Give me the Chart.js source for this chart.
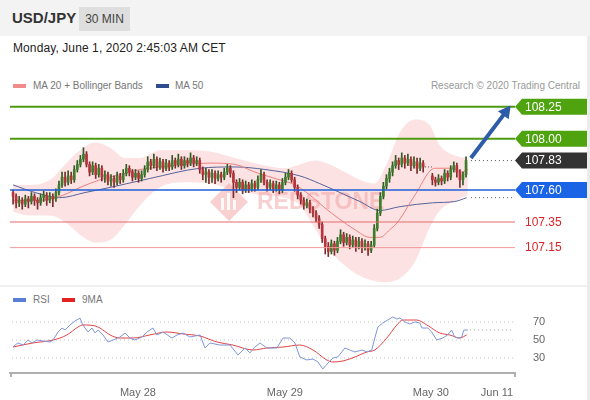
<!DOCTYPE html>
<html>
<head>
<meta charset="utf-8">
<script src="https://cdn.jsdelivr.net/npm/chart.js@4.4.0/dist/chart.umd.min.js"></script>
<style>
  html, body { margin: 0; padding: 0; background: #fff; }
  body { width: 590px; height: 400px; position: relative; overflow: hidden; font-family: "Liberation Sans", Arial, sans-serif; }
  #head { position: absolute; left: 0; top: 0; width: 590px; height: 36px; background: #f3f3f3; }
  #pair { position: absolute; left: 12px; top: 9px; font-size: 15px; font-weight: bold; color: #333; }
  #tf { position: absolute; left: 79px; top: 7px; width: 51px; height: 24px; background: #dedede; color: #444; font-size: 12px; line-height: 24px; text-align: center; }
  #date { position: absolute; left: 13px; top: 41px; font-size: 12px; color: #222; letter-spacing: 0.1px; }
  .leg { position: absolute; font-size: 10px; color: #777; white-space: nowrap; }
  .sw { position: absolute; width: 13px; height: 4px; }
  #edge { position: absolute; left: 587px; top: 36px; width: 3px; height: 364px; background: #ececec; }
  #sep { position: absolute; left: 0; top: 285px; width: 587px; height: 2px; background: #f0f0f0; }
  canvas { position: absolute; left: 0; }
</style>
</head>
<body>
<div id="head"><div id="pair">USD/JPY</div><div id="tf">30 MIN</div></div>
<div id="date">Monday, June 1, 2020 2:45:03 AM CET</div>

<div class="sw" style="left:13px;top:84px;background:#f28b8b"></div>
<div class="leg" style="left:33px;top:80px">MA 20 + Bollinger Bands</div>
<div class="sw" style="left:156px;top:84px;background:#2d4d8e"></div>
<div class="leg" style="left:175px;top:80px">MA 50</div>
<div class="leg" style="right:10px;top:80px;color:#999">Research © 2020 Trading Central</div>

<div id="sep"></div>
<div class="sw" style="left:13px;top:298px;background:#5b7fd6"></div>
<div class="leg" style="left:33px;top:294px">RSI</div>
<div class="sw" style="left:62px;top:298px;background:#e52222"></div>
<div class="leg" style="left:82px;top:294px">9MA</div>
<div id="edge"></div>

<canvas id="price" width="590" height="195" style="top:90px"></canvas>
<canvas id="rsi" width="590" height="113" style="top:287px"></canvas>

<script>
// USD/JPY 30 min - price panel + RSI panel

// ==================== DATA ====================
// candle slots (30 min each); weekend gap after slot 134
const candleSlots = [];
for (let s = 0; s <= 134; s++) candleSlots.push(s);
for (let s = 137; s <= 148; s++) candleSlots.push(s);

const opens = [
  107.58,107.55,107.50,107.52,107.49,107.53,107.51,107.55,107.52,107.50,
  107.54,107.56,107.52,107.55,107.53,107.58,107.64,107.70,107.66,107.71,
  107.68,107.76,107.80,107.84,107.88,107.80,107.74,107.79,107.72,107.77,
  107.70,107.72,107.67,107.69,107.66,107.71,107.68,107.73,107.77,107.74,
  107.70,107.73,107.69,107.72,107.76,107.82,107.79,107.84,107.78,107.82,
  107.77,107.81,107.78,107.83,107.80,107.84,107.79,107.83,107.81,107.85,
  107.81,107.83,107.76,107.72,107.74,107.70,107.73,107.69,107.72,107.70,
  107.74,107.77,107.73,107.66,107.62,107.66,107.60,107.64,107.61,107.65,
  107.62,107.68,107.72,107.66,107.62,107.65,107.61,107.64,107.60,107.66,
  107.70,107.73,107.68,107.62,107.56,107.52,107.48,107.50,107.45,107.42,
  107.38,107.33,107.22,107.16,107.12,107.18,107.13,107.20,107.25,107.19,
  107.23,107.17,107.21,107.16,107.20,107.15,107.18,107.13,107.17,107.30,
  107.42,107.55,107.63,107.69,107.74,107.79,107.83,107.80,107.85,107.81,
  107.84,107.79,107.82,107.77,107.81,
  107.71,107.68,107.66,107.69,107.67,107.73,107.70,107.76,107.79,107.74,107.68,107.72
];
const highs = [
  107.60,107.57,107.55,107.54,107.56,107.55,107.58,107.57,107.54,107.57,
  107.59,107.58,107.58,107.57,107.61,107.67,107.74,107.74,107.75,107.74,
  107.79,107.83,107.87,107.93,107.90,107.82,107.82,107.81,107.80,107.79,
  107.75,107.74,107.72,107.71,107.74,107.73,107.76,107.80,107.79,107.76,
  107.76,107.75,107.75,107.79,107.86,107.84,107.88,107.86,107.85,107.84,
  107.84,107.83,107.87,107.85,107.88,107.86,107.86,107.85,107.89,107.87,
  107.86,107.85,107.78,107.77,107.76,107.76,107.75,107.75,107.74,107.77,
  107.80,107.79,107.75,107.68,107.69,107.68,107.67,107.66,107.68,107.67,
  107.71,107.76,107.74,107.68,107.68,107.67,107.67,107.66,107.69,107.73,
  107.76,107.75,107.70,107.64,107.58,107.54,107.53,107.52,107.47,107.44,
  107.40,107.35,107.24,107.19,107.21,107.20,107.23,107.29,107.27,107.26,
  107.25,107.24,107.23,107.23,107.22,107.21,107.20,107.20,107.33,107.45,
  107.58,107.66,107.72,107.77,107.82,107.87,107.85,107.89,107.87,107.88,
  107.86,107.86,107.85,107.85,107.83,
  107.73,107.70,107.72,107.71,107.76,107.75,107.79,107.82,107.81,107.76,107.74,107.86
];
const lows = [
  107.49,107.46,107.47,107.45,107.47,107.46,107.49,107.48,107.45,107.48,
  107.51,107.48,107.50,107.47,107.51,107.56,107.62,107.63,107.64,107.65,
  107.66,107.74,107.78,107.82,107.78,107.71,107.72,107.69,107.70,107.67,
  107.66,107.64,107.63,107.62,107.64,107.65,107.66,107.71,107.71,107.67,
  107.68,107.66,107.67,107.70,107.74,107.76,107.77,107.75,107.76,107.74,
  107.75,107.75,107.76,107.77,107.78,107.76,107.77,107.78,107.79,107.78,
  107.79,107.73,107.68,107.66,107.65,107.66,107.65,107.67,107.66,107.68,
  107.72,107.70,107.54,107.58,107.60,107.57,107.58,107.58,107.59,107.59,
  107.60,107.66,107.64,107.59,107.60,107.58,107.59,107.57,107.58,107.64,
  107.68,107.66,107.59,107.53,107.49,107.45,107.46,107.42,107.39,107.35,
  107.30,107.19,107.10,107.08,107.10,107.09,107.11,107.18,107.16,107.17,
  107.14,107.15,107.12,107.14,107.11,107.13,107.09,107.11,107.15,107.28,
  107.40,107.53,107.61,107.66,107.71,107.77,107.76,107.78,107.77,107.79,
  107.75,107.77,107.73,107.75,107.74,
  107.64,107.63,107.64,107.64,107.65,107.67,107.68,107.74,107.70,107.62,107.64,107.70
];
const closes = [
  107.55,107.50,107.52,107.49,107.53,107.51,107.55,107.52,107.50,107.54,
  107.56,107.52,107.55,107.53,107.58,107.64,107.70,107.66,107.71,107.68,
  107.76,107.80,107.84,107.88,107.80,107.74,107.79,107.72,107.77,107.70,
  107.72,107.67,107.69,107.66,107.71,107.68,107.73,107.77,107.74,107.70,
  107.73,107.69,107.72,107.76,107.82,107.79,107.84,107.78,107.82,107.77,
  107.81,107.78,107.83,107.80,107.84,107.79,107.83,107.81,107.85,107.81,
  107.83,107.76,107.72,107.74,107.70,107.73,107.69,107.72,107.70,107.74,
  107.77,107.73,107.66,107.62,107.66,107.60,107.64,107.61,107.65,107.62,
  107.68,107.72,107.66,107.62,107.65,107.61,107.64,107.60,107.66,107.70,
  107.73,107.68,107.62,107.56,107.52,107.48,107.50,107.45,107.42,107.38,
  107.33,107.22,107.16,107.12,107.18,107.13,107.20,107.25,107.19,107.23,
  107.17,107.21,107.16,107.20,107.15,107.18,107.13,107.17,107.30,107.42,
  107.55,107.63,107.69,107.74,107.79,107.83,107.80,107.85,107.81,107.84,
  107.79,107.82,107.77,107.81,107.78,
  107.68,107.66,107.69,107.67,107.73,107.70,107.76,107.79,107.74,107.68,107.72,107.83
];

// Bollinger bands (20) sampled along the slots
const bandSlots = [0,5.6,12.1,17,21.9,26.8,31.7,36.6,41.5,48,56.2,64.3,72.5,80.7,88.8,93.7,98.6,103.5,108.4,113.3,118,122,126.4,131.3,136,139.4,144.3,148.6];
const bbUpper = [107.64,107.64,107.68,107.80,107.91,107.97,107.93,107.85,107.85,107.91,107.91,107.90,107.85,107.80,107.77,107.80,107.83,107.80,107.74,107.68,107.65,107.80,108.05,108.15,108.11,107.95,107.87,107.85];
const bbLower = [107.43,107.40,107.40,107.35,107.25,107.19,107.21,107.33,107.48,107.62,107.66,107.65,107.60,107.56,107.54,107.48,107.30,107.13,107.01,106.93,106.89,106.88,106.91,107.04,107.30,107.44,107.51,107.56];

const ma20Slots = [0,8.8,15.3,21.9,28.4,34.9,41.5,48,56.2,64.3,72.5,79,85.6,92.1,97,101.9,106.8,111.7,116.6,119.8,123.1,125.7,131.3,137.8,143.7,146.6,148.6];
const ma20 = [107.52,107.52,107.55,107.62,107.68,107.72,107.76,107.78,107.80,107.81,107.80,107.74,107.69,107.64,107.56,107.46,107.37,107.29,107.23,107.23,107.29,107.35,107.56,107.77,107.77,107.74,107.76];

const ma50Slots = [0,7.2,15.3,23.5,31.7,44.7,61.1,72.5,82.3,93.7,100.2,106.8,113.3,119.8,126.4,137.1,144.3,148.2];
const ma50 = [107.64,107.58,107.54,107.58,107.62,107.69,107.77,107.78,107.76,107.71,107.65,107.58,107.51,107.44,107.47,107.50,107.51,107.54];

// key levels
const resistLevels = [108.25, 108.00];
const pivotLevel = 107.60;
const supportLevels = [107.35, 107.15];
const lastPrice = 107.83;
const fridayClose = 107.78;
const arrowFrom = [149.6, 107.85];
const arrowTo = [162.6, 108.26];

// RSI(14) and its 9 period MA
const rsiSlots = [0,1.6,3.3,4.9,6.2,7.8,9.8,12.1,13.1,14.7,16,17,18.6,20.2,21.9,22.5,23.5,24.5,25.8,26.8,27.8,29.4,31,32.7,34.9,36.6,38.2,39.8,42.1,43.8,45.7,47,49,51.9,53.6,55.5,57.8,61.1,62.7,64.3,67.6,70.9,73.5,75.8,77.4,79,80.7,82.9,86.2,88.2,90.4,92.1,93.7,96,98,99.6,101.2,102.9,104.5,106.1,107.4,108.4,110,111.7,114,115.6,117.2,118.2,119.2,120.8,122.4,124.1,125.4,126.4,128,129.6,131.3,132.9,133.6,135.5,136.8,138.4,140.4,142,143.3,144.3,145.3,146.6,147.3,148.6];
const rsiVals = [42.6,46.7,44.4,50,46.7,50,48.9,47.8,50,58.9,63.3,61.1,66.7,71.1,74.4,68.9,63.3,58.9,63.3,57.8,61.1,55.6,47.8,50,53.3,57.8,52.2,50,53.3,58.9,63.3,55.6,58.9,52.2,55.6,57.8,53.3,55.6,41.1,46.7,44.4,44.4,33.3,41.1,35.6,42.2,46.7,41.1,41.1,52.2,52.2,46.7,31.1,27.8,28.9,25.6,17.8,24.4,30,31.1,36.7,41.1,38.9,36.7,38.9,36.7,38.9,52.2,64.4,68.9,72.2,75.6,73.3,74.4,70,67.8,70,68.9,63.3,63.3,58.9,50,52.2,55.6,61.1,53.3,52.2,53.3,61.1,61.1];
const maSlots = [0,6.5,13.1,17.6,21.2,22.9,26.8,28.4,31.7,34.9,39.2,44.7,50.3,55.5,61.1,66.6,71.8,78.4,82.9,88.2,93.7,98,102.5,104.5,107.8,111.7,115.6,118.2,122.1,125.4,127.3,131.9,135.2,139.4,142.7,146,148.2];
const maVals = [42.2,46.7,50,55.6,64.4,66.7,65.6,63.3,55.6,52.2,52.2,55.6,58.9,56.7,54.4,47.8,44.4,38.9,41.1,42.2,44.4,38.9,27.8,25.6,26.7,31.1,36.7,38.9,52.2,66.7,72.2,72.2,66.7,57.8,55.6,52.2,55.6];
const rsiGrid = [30, 50, 70];

const xTickSlots = [40.8, 88.8, 136.5, 158.1];
const xTickLabels = ['May 28', 'May 29', 'May 30', 'Jun 11'];

// ==================== HELPERS ====================
const pts = (xs, ys) => xs.map((x, i) => ({ x: x, y: ys[i] }));
const UP = '#3f7d2e', DOWN = '#b8343a';
const dirColor = (k, a, b) => closes[k] >= opens[k] ? a : b;

function drawTag(ctx, x0, x1, cy, text, bg, fg) {
    if (bg) {
        ctx.fillStyle = bg;
        ctx.beginPath();
        ctx.moveTo(x0, cy);
        ctx.lineTo(x0 + 7, cy - 8);
        ctx.lineTo(x1, cy - 8);
        ctx.lineTo(x1, cy + 8);
        ctx.lineTo(x0 + 7, cy + 8);
        ctx.closePath();
        ctx.fill();
    }
    ctx.fillStyle = fg;
    ctx.font = '12px "Liberation Sans", Arial, sans-serif';
    ctx.textAlign = 'left';
    ctx.textBaseline = 'middle';
    ctx.fillText(text, x0 + 10, cy + 0.5);
}

function hLine(ctx, a, py, color, width, dash, x0, x1) {
    ctx.save();
    ctx.strokeStyle = color;
    ctx.lineWidth = width;
    ctx.setLineDash(dash || []);
    ctx.beginPath();
    ctx.moveTo(x0 != null ? x0 : a.left, py);
    ctx.lineTo(x1 != null ? x1 : a.right, py);
    ctx.stroke();
    ctx.restore();
}

// ==================== PRICE PANEL ====================
const priceDecor = {
    id: 'priceDecor',
    beforeDatasetsDraw(chart) {
        const { ctx } = chart;
        // watermark (canvas starts 90px down the page)
        ctx.save();
        const cx = 229, cy = 112;
        ctx.fillStyle = 'rgba(232,110,110,0.32)';
        ctx.beginPath();
        ctx.moveTo(cx, cy - 19); ctx.lineTo(cx + 19, cy); ctx.lineTo(cx, cy + 19); ctx.lineTo(cx - 19, cy);
        ctx.closePath(); ctx.fill();
        ctx.fillStyle = 'rgba(255,255,255,0.85)';
        ctx.fillRect(cx - 8, cy - 4, 3, 12);
        ctx.fillRect(cx - 2, cy - 9, 3, 17);
        ctx.fillRect(cx + 4, cy - 2, 3, 10);
        ctx.fillStyle = 'rgba(232,110,110,0.32)';
        ctx.font = 'bold 23px "Liberation Sans", Arial, sans-serif';
        ctx.textAlign = 'left';
        ctx.textBaseline = 'middle';
        ctx.fillText('REDSTONE', 257, 113);
        ctx.restore();
    },
    afterDatasetsDraw(chart) {
        const { ctx, chartArea: a, scales: { x, y } } = chart;
        const tagR = 587;
        resistLevels.forEach(v => hLine(ctx, a, y.getPixelForValue(v), '#4d9a10', 2));
        hLine(ctx, a, y.getPixelForValue(pivotLevel), '#1f5fd8', 1.5);
        hLine(ctx, a, y.getPixelForValue(supportLevels[0]), '#e26b6b', 1);
        hLine(ctx, a, y.getPixelForValue(supportLevels[1]), '#f19a9a', 1);
        // dotted extensions
        const xs = x.getPixelForValue(arrowFrom[0]);
        hLine(ctx, a, y.getPixelForValue(lastPrice), '#555', 1, [1, 3], xs, a.right);
        hLine(ctx, a, y.getPixelForValue(ma50[ma50.length - 1]), '#555', 1, [1, 3], xs, a.right);
        hLine(ctx, a, y.getPixelForValue(fridayClose), '#555', 1, [1, 2], x.getPixelForValue(134.6), x.getPixelForValue(137));
        // arrow
        const x1 = x.getPixelForValue(arrowFrom[0]), y1 = y.getPixelForValue(arrowFrom[1]);
        const x2 = x.getPixelForValue(arrowTo[0]), y2 = y.getPixelForValue(arrowTo[1]);
        const ang = Math.atan2(y2 - y1, x2 - x1);
        ctx.save();
        ctx.strokeStyle = '#2d5da9';
        ctx.fillStyle = '#2d5da9';
        ctx.lineWidth = 4;
        ctx.beginPath();
        ctx.moveTo(x1, y1);
        ctx.lineTo(x2 - 9 * Math.cos(ang), y2 - 9 * Math.sin(ang));
        ctx.stroke();
        ctx.beginPath();
        ctx.moveTo(x2, y2);
        ctx.lineTo(x2 - 14 * Math.cos(ang - 0.5), y2 - 14 * Math.sin(ang - 0.5));
        ctx.lineTo(x2 - 14 * Math.cos(ang + 0.5), y2 - 14 * Math.sin(ang + 0.5));
        ctx.closePath();
        ctx.fill();
        ctx.restore();
        // tags
        drawTag(ctx, a.right, tagR, y.getPixelForValue(resistLevels[0]), resistLevels[0].toFixed(2), '#4ea30f', '#fff');
        drawTag(ctx, a.right, tagR, y.getPixelForValue(resistLevels[1]), resistLevels[1].toFixed(2), '#4ea30f', '#fff');
        drawTag(ctx, a.right, tagR, y.getPixelForValue(lastPrice), lastPrice.toFixed(2), '#333', '#fff');
        drawTag(ctx, a.right, tagR, y.getPixelForValue(pivotLevel), pivotLevel.toFixed(2), '#1c64e6', '#fff');
        supportLevels.forEach(v => drawTag(ctx, a.right, tagR, y.getPixelForValue(v), v.toFixed(2), null, '#d9252a'));
    }
};

new Chart(document.getElementById('price'), {
    type: 'bar',
    data: {
        datasets: [
            { label: 'body', data: candleSlots.map((s, k) => ({ x: s, y: [opens[k], closes[k]] })), backgroundColor: candleSlots.map((s, k) => dirColor(k, UP, DOWN)), barThickness: 2, minBarLength: 1, grouped: false, order: 0 },
            { label: 'wick', data: candleSlots.map((s, k) => ({ x: s, y: [lows[k], highs[k]] })), backgroundColor: candleSlots.map((s, k) => dirColor(k, '#2e5a22', '#7d2a2e')), barThickness: 1, grouped: false, order: 1 },
            { type: 'line', label: 'MA 20', data: pts(ma20Slots, ma20), borderColor: '#ee8080', borderWidth: 1, pointRadius: 0, cubicInterpolationMode: 'monotone', order: 2 },
            { type: 'line', label: 'MA 50', data: pts(ma50Slots, ma50), borderColor: '#56629a', borderWidth: 1, pointRadius: 0, cubicInterpolationMode: 'monotone', order: 2 },
            { type: 'line', label: 'BB up', data: pts(bandSlots, bbUpper), borderWidth: 0, pointRadius: 0, fill: '+1', backgroundColor: 'rgba(246,150,150,0.28)', cubicInterpolationMode: 'monotone', order: 3 },
            { type: 'line', label: 'BB low', data: pts(bandSlots, bbLower), borderWidth: 0, pointRadius: 0, fill: false, cubicInterpolationMode: 'monotone', order: 3 }
        ]
    },
    options: {
        responsive: false,
        animation: false,
        layout: { padding: { left: 10, right: 75, top: 0, bottom: 0 } },
        plugins: { legend: { display: false }, tooltip: { enabled: false } },
        scales: {
            x: { type: 'linear', min: -1, max: 164, display: false, offset: false },
            y: { min: 106.858, max: 108.381, display: false }
        }
    },
    plugins: [priceDecor]
});

// ==================== RSI PANEL ====================
const rsiDecor = {
    id: 'rsiDecor',
    beforeDatasetsDraw(chart) {
        const { ctx, chartArea: a, scales: { y } } = chart;
        rsiGrid.forEach(v => hLine(ctx, a, y.getPixelForValue(v), '#c4c4c4', 1, [1, 3], a.left + 2, a.right - 2));
    },
    afterDatasetsDraw(chart) {
        const { ctx, chartArea: a, scales: { x, y } } = chart;
        const last = rsiVals[rsiVals.length - 1];
        hLine(ctx, a, y.getPixelForValue(last), '#999', 1, [1, 3], x.getPixelForValue(rsiSlots[rsiSlots.length - 1]) + 2, a.right - 2);
        // axis end ticks
        ctx.save();
        ctx.strokeStyle = '#b0b0b0';
        ctx.lineWidth = 2;
        ctx.beginPath();
        ctx.moveTo(a.left + 1, a.bottom); ctx.lineTo(a.left + 1, a.bottom + 4);
        ctx.moveTo(a.right, a.bottom); ctx.lineTo(a.right, a.bottom + 4);
        ctx.stroke();
        ctx.restore();
    }
};

new Chart(document.getElementById('rsi'), {
    type: 'line',
    data: {
        datasets: [
            { label: 'RSI', data: pts(rsiSlots, rsiVals), borderColor: '#7e96da', borderWidth: 1, pointRadius: 0, tension: 0 },
            { label: '9MA', data: pts(maSlots, maVals), borderColor: '#e04444', borderWidth: 1, pointRadius: 0, cubicInterpolationMode: 'monotone' }
        ]
    },
    options: {
        responsive: false,
        animation: false,
        layout: { padding: { left: 10, right: 0, top: 23, bottom: 0 } },
        plugins: { legend: { display: false }, tooltip: { enabled: false } },
        scales: {
            x: {
                type: 'linear', min: -1, max: 164,
                afterBuildTicks: s => { s.ticks = xTickSlots.map(v => ({ value: v })); },
                afterFit: s => { s.height = 27; },
                ticks: { autoSkip: false, maxRotation: 0, padding: 5, color: '#666', font: { family: '"Liberation Sans", Arial, sans-serif', size: 11 }, callback: (v) => xTickLabels[xTickSlots.indexOf(v)] },
                grid: { display: false },
                border: { display: true, color: '#b0b0b0', width: 2 }
            },
            y: {
                position: 'right', min: 13.33, max: 83.33,
                afterBuildTicks: s => { s.ticks = rsiGrid.map(v => ({ value: v })); },
                afterFit: s => { s.width = 75; },
                ticks: { padding: 10, color: '#666', font: { family: '"Liberation Sans", Arial, sans-serif', size: 11 } },
                grid: { display: false },
                border: { display: false }
            }
        }
    },
    plugins: [rsiDecor]
});
</script>
</body>
</html>
